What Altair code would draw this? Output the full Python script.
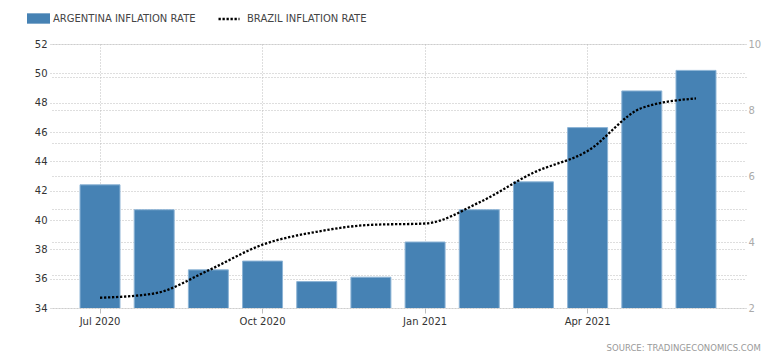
import altair as alt
import pandas as pd

months = ["Jul 2020", "Aug 2020", "Sep 2020", "Oct 2020", "Nov 2020", "Dec 2020",
          "Jan 2021", "Feb 2021", "Mar 2021", "Apr 2021", "May 2021", "Jun 2021"]
argentina = [42.4, 40.7, 36.6, 37.2, 35.8, 36.1, 38.5, 40.7, 42.6, 46.3, 48.8, 50.2]
brazil = [2.31, 2.44, 3.14, 3.92, 4.31, 4.52, 4.56, 5.20, 6.10, 6.76, 8.06, 8.35]
x_ticks = ["Jul 2020", "Oct 2020", "Jan 2021", "Apr 2021"]
left_ticks = [34, 36, 38, 40, 42, 44, 46, 48, 50, 52]
right_ticks = [2, 3, 4, 5, 6, 7, 8, 9, 10]
series_a = "ARGENTINA INFLATION RATE"
series_b = "BRAZIL INFLATION RATE"

df = pd.DataFrame({"month": months, "arg": argentina, "bra": brazil,
                   "sa": series_a, "sb": series_b})

FONT = "DejaVu Sans"
GRID = "#bdbdbd"
BLUE = "#4682b4"

x = alt.X("month:O", sort=months, title=None,
          scale=alt.Scale(paddingInner=0.262, paddingOuter=0.554),
          axis=alt.Axis(values=x_ticks, labelAngle=0, bandPosition=0.5, grid=True,
                        gridDash=[1, 2], gridColor=GRID, domain=False, ticks=True,
                        tickSize=5, tickColor=GRID, labelColor="#333", labelFont=FONT,
                        labelFontSize=10, labelPadding=3))

bars = alt.Chart(df).mark_bar(stroke="#8db4d6", strokeWidth=1, clip=True).encode(
    x=x,
    y=alt.Y("arg:Q", title=None,
            scale=alt.Scale(domain=[34, 52], nice=False, zero=False),
            axis=alt.Axis(values=left_ticks, orient="left", grid=True, gridDash=[1, 2],
                          gridColor=GRID, domain=False, ticks=False, labelColor="#333",
                          labelFont=FONT, labelFontSize=10, labelPadding=3)),
    fill=alt.Fill("sa:N", scale=alt.Scale(domain=[series_a], range=[BLUE]),
                  legend=alt.Legend(orient="none", legendX=-23, legendY=-37, title=None,
                                    symbolType="M-1,-0.45H1V0.45H-1Z", symbolSize=529,
                                    symbolStrokeWidth=0, labelFont=FONT, labelFontSize=10,
                                    labelColor="#444", labelOffset=3, padding=0,
                                    symbolOffset=0)),
)

line = alt.Chart(df).mark_line(color="black", strokeWidth=2.3, strokeDash=[2.3, 1.7],
                               interpolate="monotone").encode(
    x=x,
    y=alt.Y("bra:Q", title=None,
            scale=alt.Scale(domain=[2, 10], nice=False, zero=False),
            axis=alt.Axis(values=right_ticks, orient="right", grid=True, gridDash=[1, 2],
                          gridColor=GRID, domain=False, ticks=False, labelColor="#aaaaaa",
                          labelFont=FONT, labelFontSize=10, labelPadding=2,
                          labelExpr="datum.value % 2 == 0 ? datum.label : ''")),
    stroke=alt.Stroke("sb:N", scale=alt.Scale(domain=[series_b], range=["black"]),
                      legend=alt.Legend(orient="none", legendX=167, legendY=-37, title=None,
                                        symbolType="stroke", symbolSize=441,
                                        symbolStrokeWidth=2.3, symbolDash=[2.3, 1.7],
                                        labelFont=FONT, labelFontSize=10,
                                        labelColor="#444", labelOffset=6, padding=0,
                                        symbolOffset=0)),
)

chart = alt.layer(bars, line).resolve_scale(y="independent").properties(
    width=696, height=264,
    autosize=alt.AutoSizeParams(type="none"),
    padding={"left": 42, "top": 36, "right": 28, "bottom": 44},
    title=alt.TitleParams("SOURCE:  TRADINGECONOMICS.COM", orient="bottom", anchor="end",
                          frame="bounds", fontSize=8.5, color="#999999", font=FONT,
                          fontWeight="normal", offset=18),
).configure_view(stroke=None)

chart.save("out.html", embed_options={"renderer": "svg", "actions": False})
